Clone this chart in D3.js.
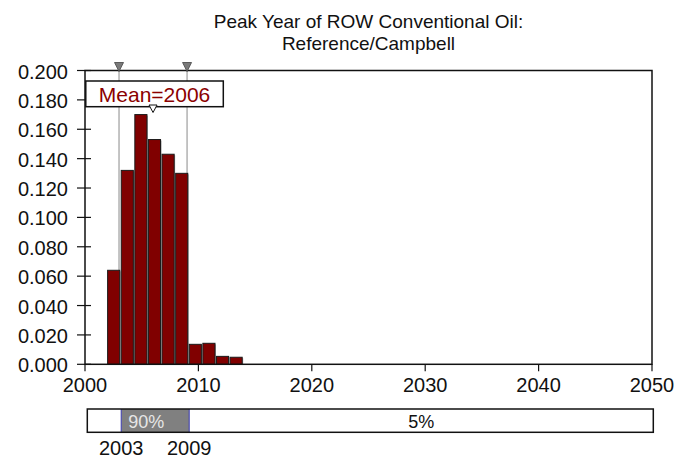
<!DOCTYPE html>
<html>
<head>
<meta charset="utf-8">
<script src="https://cdn.jsdelivr.net/npm/d3@7/dist/d3.min.js"></script>
<style>
  html, body { margin: 0; padding: 0; background: #fff; }
  svg { display: block; font-family: "Liberation Sans", Arial, Helvetica, sans-serif; }
</style>
</head>
<body>
<svg id="chart" width="690" height="459"></svg>
<script>
// Histogram of the peak year (probability density per year)
const binEdges = [2001.95, 2003.15, 2004.35, 2005.55, 2006.75, 2007.95, 2009.15, 2010.35, 2011.55, 2012.75, 2013.95];
const density  = [0.064, 0.132, 0.170, 0.153, 0.143, 0.130, 0.0136, 0.0143, 0.0054, 0.0048];

// Summary statistics
const meanYear = 2006;
const lowYear = 2003;   // 5th percentile
const highYear = 2009;  // 95th percentile

// Probability bands for the range strip
const bandStarts = [2000, 2003, 2009];
const bandEnds   = [2003, 2009, 2050];
const bandLabels = ["5%", "90%", "5%"];

// Axis ticks
const xTicks = [2000, 2010, 2020, 2030, 2040, 2050];
const yTicks = [0, 0.02, 0.04, 0.06, 0.08, 0.10, 0.12, 0.14, 0.16, 0.18, 0.20];

const titleLines = ["Peak Year of ROW Conventional Oil:", "Reference/Campbell"];

const svg = d3.select("#chart");
const plot = { left: 85, right: 652, top: 70.5, bottom: 364.3 };

const x = d3.scaleLinear().domain([2000, 2050]).range([plot.left, plot.right]);
const y = d3.scaleLinear().domain([0, 0.2]).range([plot.bottom, plot.top]);

// Title
svg.append("g").selectAll("text").data(titleLines).join("text")
  .attr("x", (plot.left + plot.right) / 2)
  .attr("y", (d, i) => 28 + i * 22)
  .attr("text-anchor", "middle")
  .attr("font-size", 19)
  .attr("fill", "#111")
  .text(d => d);

// Percentile guide lines
svg.append("g").selectAll("line").data([lowYear, highYear]).join("line")
  .attr("x1", d => x(d)).attr("x2", d => x(d))
  .attr("y1", plot.top).attr("y2", plot.bottom)
  .attr("stroke", "#8a8a8a").attr("stroke-width", 1);

// Bars with a light shadow on the right
const bins = density.map((v, i) => ({ x0: binEdges[i], x1: binEdges[i + 1], v }));
const barG = svg.append("g");
barG.selectAll("rect.shadow").data(bins).join("rect")
  .attr("class", "shadow")
  .attr("x", d => x(d.x0) + 1.5)
  .attr("y", d => y(d.v) + 1)
  .attr("width", d => x(d.x1) - x(d.x0) - 1.5)
  .attr("height", d => plot.bottom - y(d.v) - 1)
  .attr("fill", "#a8a8a8");
barG.selectAll("rect.bar").data(bins).join("rect")
  .attr("class", "bar")
  .attr("x", d => x(d.x0) + 0.5)
  .attr("y", d => y(d.v))
  .attr("width", d => x(d.x1) - x(d.x0) - 1.5)
  .attr("height", d => plot.bottom - y(d.v))
  .attr("fill", "#800000")
  .attr("stroke", "#1a1a1a")
  .attr("stroke-width", 1);

// Frame
svg.append("rect")
  .attr("x", plot.left).attr("y", plot.top)
  .attr("width", plot.right - plot.left).attr("height", plot.bottom - plot.top)
  .attr("fill", "none").attr("stroke", "#111").attr("stroke-width", 1.5);

// Y axis
const yAxis = svg.append("g");
yAxis.selectAll("line").data(yTicks).join("line")
  .attr("x1", plot.left - 8).attr("x2", plot.left + 6)
  .attr("y1", d => y(d)).attr("y2", d => y(d))
  .attr("stroke", "#111").attr("stroke-width", 1.2);
yAxis.selectAll("text").data(yTicks).join("text")
  .attr("x", 68)
  .attr("y", d => y(d) + 8)
  .attr("text-anchor", "end")
  .attr("font-size", 20)
  .attr("fill", "#111")
  .text(d => d3.format(".3f")(d));

// X axis
const xAxis = svg.append("g");
xAxis.selectAll("line").data(xTicks).join("line")
  .attr("x1", d => x(d)).attr("x2", d => x(d))
  .attr("y1", plot.bottom).attr("y2", plot.bottom + 7)
  .attr("stroke", "#111").attr("stroke-width", 1.2);
xAxis.selectAll("text").data(xTicks).join("text")
  .attr("x", d => x(d))
  .attr("y", 392)
  .attr("text-anchor", "middle")
  .attr("font-size", 20)
  .attr("fill", "#111")
  .text(d => d);

// Percentile markers on the top edge
svg.append("g").selectAll("path").data([lowYear, highYear]).join("path")
  .attr("d", d => `M${x(d) - 4.5},${plot.top - 8} L${x(d) + 4.5},${plot.top - 8} L${x(d)},${plot.top + 1} Z`)
  .attr("fill", "#7a7a7a").attr("stroke", "#444").attr("stroke-width", 0.8);

// Mean label box
const meanG = svg.append("g");
const meanBox = meanG.append("rect");
const meanText = meanG.append("text")
  .attr("x", x(meanYear) + 1.5)
  .attr("y", 101.5)
  .attr("text-anchor", "middle")
  .attr("font-size", 21)
  .attr("fill", "#8b0000")
  .text("Mean=" + meanYear);
const tw = meanText.node().getComputedTextLength();
meanBox
  .attr("x", x(meanYear) + 1.5 - tw / 2 - 13)
  .attr("y", 81)
  .attr("width", tw + 26)
  .attr("height", 25.7)
  .attr("fill", "#fff")
  .attr("stroke", "#111").attr("stroke-width", 1.5);

// Mean marker
meanG.append("path")
  .attr("d", `M${x(meanYear) - 4},${105} L${x(meanYear) + 4},${105} L${x(meanYear)},${112.5} Z`)
  .attr("fill", "#fff").attr("stroke", "#111").attr("stroke-width", 1);

// Range strip
const xb = d3.scaleLinear().domain([2000, 2050]).range([87.3, 653.3]);
const strip = { top: 409, bottom: 432.3 };
const bands = bandStarts.map((s, i) => ({ s, e: bandEnds[i], label: bandLabels[i], mid: i === 1 }));
const stripG = svg.append("g");
stripG.append("rect")
  .attr("x", xb(2000)).attr("y", strip.top)
  .attr("width", xb(2050) - xb(2000)).attr("height", strip.bottom - strip.top)
  .attr("fill", "#fff");
stripG.selectAll("rect.band").data(bands.filter(b => b.mid)).join("rect")
  .attr("class", "band")
  .attr("x", d => xb(d.s)).attr("y", strip.top)
  .attr("width", d => xb(d.e) - xb(d.s)).attr("height", strip.bottom - strip.top)
  .attr("fill", "#808080");
stripG.selectAll("line.edge").data([lowYear, highYear]).join("line")
  .attr("class", "edge")
  .attr("x1", d => xb(d)).attr("x2", d => xb(d))
  .attr("y1", strip.top).attr("y2", strip.bottom)
  .attr("stroke", "#4b4bb0").attr("stroke-width", 1.2);
stripG.append("rect")
  .attr("x", xb(2000)).attr("y", strip.top)
  .attr("width", xb(2050) - xb(2000)).attr("height", strip.bottom - strip.top)
  .attr("fill", "none").attr("stroke", "#111").attr("stroke-width", 1.5);
stripG.selectAll("text.band").data(bands.filter(b => xb(b.e) - xb(b.s) > 50)).join("text")
  .attr("class", "band")
  .attr("x", d => d.mid ? xb(d.s) + 7 : (xb(d.s) + xb(d.e)) / 2)
  .attr("y", 427.5)
  .attr("text-anchor", d => d.mid ? "start" : "middle")
  .attr("font-size", 18)
  .attr("fill", d => d.mid ? "#e6e6e6" : "#111")
  .text(d => d.label);
stripG.selectAll("text.year").data([lowYear, highYear]).join("text")
  .attr("class", "year")
  .attr("x", d => xb(d))
  .attr("y", 455)
  .attr("text-anchor", "middle")
  .attr("font-size", 20)
  .attr("fill", "#111")
  .text(d => d);
</script>
</body>
</html>
